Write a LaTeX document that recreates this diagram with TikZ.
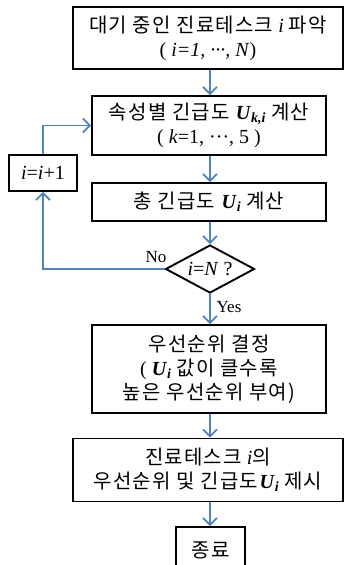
\documentclass[tikz,border=0pt]{standalone}
\usepackage{fontspec}
\setmainfont{Liberation Serif}
\newfontfamily\kr[LetterSpace=6]{Noto Sans CJK KR}
\usetikzlibrary{arrows.meta,shapes.geometric}
\definecolor{arrblue}{RGB}{79,129,189}
\newcommand\K[1]{{\kr #1}}
\newcommand\UU{\textbf{\textit{U}}}
\newcommand\Us[1]{\UU\textsubscript{\textbf{\textit{#1}}}}
\begin{document}
\begin{tikzpicture}[x=1pt,y=-1pt,
  fbox/.style={draw=black,line width=1.9pt,inner sep=0pt,align=center,
    font=\fontsize{20}{24}\selectfont},
  arr/.style={draw=arrblue,line width=1.8pt,-{Straight Barb[length=7pt,width=14pt,line width=1.8pt]}},
  lab/.style={font=\fontsize{17}{18}\selectfont,inner sep=0pt}]
\useasboundingbox (0,0) rectangle (344,565);
\node[fbox,minimum width=270pt,minimum height=62pt] (b1) at (208,38)
  {\K{대기 중인 진료테스크} \textit{i} \K{파악}\\( \textit{i=1, ···, N})};
\node[fbox,minimum width=234pt,minimum height=59pt] (b2) at (209,125.5)
  {\K{속성별 긴급도} \Us{k,i} \K{계산}\\( \textit{k}=1, ···, 5 )};
\node[fbox,minimum width=234pt,minimum height=38pt] (b3) at (209,202)
  {\K{총 긴급도} \Us{i} \K{계산}};
\node[fbox,shape=diamond,aspect=1.85,minimum width=89pt,minimum height=48pt] (dia) at (210,269)
  {\textit{i}=\textit{N} ?};
\node[fbox,minimum width=68pt,minimum height=36pt] (inc) at (43,173)
  {\textit{i}=\textit{i}+1};
\node[fbox,minimum width=234pt,minimum height=88pt] (b4) at (209,369)
  {\K{우선순위 결정}\\( \Us{i} \K{값이 클수록}\\\K{높은 우선순위 부여)}};
\node[fbox,minimum width=270pt,minimum height=63pt] (b5) at (208,470)
  {\K{진료테스크} \textit{i}\K{의}\\\K{우선순위 및 긴급도}\Us{i} \K{제시}};
\node[fbox,minimum width=69pt,minimum height=46pt] (b6) at (210.5,550)
  {\K{종료}};
\draw[arr] (b1.south -| dia.north) -- (b2.north -| dia.north);
\draw[arr] (b2.south -| dia.north) -- (b3.north -| dia.north);
\draw[arr] (b3.south -| dia.north) -- (dia.north);
\draw[arr] (dia.south) -- (b4.north -| dia.south);
\draw[arr] (b4.south -| dia.south) -- (b5.north -| dia.south);
\draw[arr] (b5.south -| dia.south) -- (b6.north -| dia.south);
\draw[arr] (dia.west) -| (inc.south);
\draw[arr] (inc.north) |- (b2.west);
\node[lab] (no) at (156,257) {No};
\node[lab] (yes) at (229,307) {Yes};
\end{tikzpicture}
\end{document}
